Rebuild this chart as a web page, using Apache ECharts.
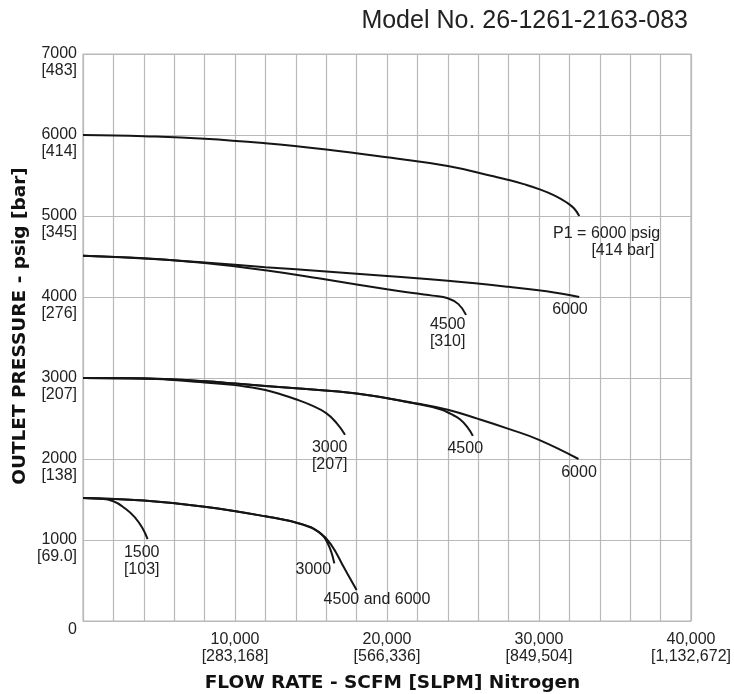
<!DOCTYPE html>
<html>
<head>
<meta charset="utf-8">
<script src="https://cdn.jsdelivr.net/npm/echarts@6/dist/echarts.min.js"></script>
<style>
html,body{margin:0;padding:0;background:#fff;}
#chart{width:734px;height:694px;}
</style>
</head>
<body>
<div id="chart"></div>
<script>
// ---- data (flow SCFM, outlet psig) ----
const curveP6000_top = [[0,6000],[4000,5985],[8000,5955],[12000,5898],[16000,5820],[20000,5724],[24000,5617],[27000,5490],[28000,5445],[29000,5393],[30000,5332],[31000,5255],[31800,5170],[32300,5095],[32650,5000]];
const curve4500_p6000 = [[0,4510],[4000,4475],[8000,4425],[12000,4368],[16000,4316],[20000,4258],[24000,4200],[28000,4126],[30500,4070],[32650,4000]];
const curve4500_p4500 = [[0,4510],[4000,4478],[8000,4420],[12000,4330],[16000,4215],[20000,4095],[22000,4042],[23000,4017],[24000,3985],[24700,3912],[25200,3780]];
const curve3000_p6000 = [[0,3000],[4000,2995],[8000,2960],[10000,2932],[14000,2872],[18000,2808],[22000,2684],[24000,2608],[26000,2495],[28000,2372],[30000,2236],[32600,2000]];
const curve3000_p4500 = [[0,3000],[4000,2995],[8000,2960],[10000,2932],[14000,2872],[18000,2808],[22000,2680],[23500,2615],[24200,2556],[24800,2490],[25300,2390],[25650,2285]];
const curve3000_p3000 = [[0,3000],[4000,2993],[8000,2945],[10000,2912],[11000,2885],[12000,2852],[13000,2800],[14000,2738],[15000,2665],[16000,2566],[16700,2440],[17240,2300]];
const curve1500_p1500 = [[0,1520],[1000,1512],[2000,1478],[2800,1385],[3400,1282],[3900,1150],[4250,1010]];
const curve1500_p3000 = [[0,1520],[4000,1487],[8000,1411],[12000,1292],[14400,1195],[15500,1100],[16100,960],[16535,712]];
const curve1500_p4500 = [[0,1520],[4000,1487],[8000,1411],[12000,1292],[14400,1195],[15500,1100],[16300,950],[17200,650],[18000,383]];

const curveLabels = [
  [34454,4784,'P1 = 6000 psig'],
  [35526,4574,'[414 bar]'],
  [32039,3840,'6000'],
  [23993,3549,'4500\n[310]'],
  [16230,2034,'3000\n[207]'],
  [25151,2123,'4500'],
  [32632,1833,'6000'],
  [3862,741,'1500\n[103]'],
  [15151,630,'3000'],
  [19342,259,'4500 and 6000']
];

const yTickValues = [0,1000,2000,3000,4000,5000,6000,7000];
const yTickPsig = ['0','1000','2000','3000','4000','5000','6000','7000'];
const yTickBar = ['','[69.0]','[138]','[207]','[276]','[345]','[414]','[483]'];
const xTickValues = [10000,20000,30000,40000];
const xTickScfm = ['10,000','20,000','30,000','40,000'];
const xTickSlpm = ['[283,168]','[566,336]','[849,504]','[1,132,672]'];

const modelText = 'Model No. 26-1261-2163-083';
const xTitle = 'FLOW RATE - SCFM [SLPM] Nitrogen';
const yTitle = 'OUTLET PRESSURE - psig [bar]';

// ---- chart ----
const chart = echarts.init(document.getElementById('chart'), null, {renderer:'canvas'});
const TXT = '#222222';
const GRIDC = '#b9b9b9';
const LINEC = '#151515';
const FONT = 'Liberation Sans, Arial, sans-serif';

function lineSeries(name, data){
  return {name, type:'line', data, smooth:0.45, symbol:'none', clip:false,
    lineStyle:{color:LINEC, width:2}, z:3, animation:false};
}

const option = {
  animation:false,
  backgroundColor:'#fff',
  grid:{left:83, top:54, right:43, bottom:73, show:true, borderColor:GRIDC, borderWidth:1.2, backgroundColor:'transparent'},
  xAxis:{type:'value', min:0, max:40000, interval:2000,
    axisLine:{show:false}, axisTick:{show:false},
    splitLine:{show:true, lineStyle:{color:GRIDC, width:1.2}},
    axisLabel:{margin:10, fontFamily:FONT, fontSize:16, lineHeight:17, color:TXT,
      showMinLabel:true, showMaxLabel:true,
      formatter:function(v){ const i = xTickValues.indexOf(v); return i<0 ? '' : xTickScfm[i]+'\n'+xTickSlpm[i]; }}
  },
  yAxis:{type:'value', min:0, max:7000, interval:1000,
    axisLine:{show:false}, axisTick:{show:false},
    splitLine:{show:true, lineStyle:{color:GRIDC, width:1.2}},
    axisLabel:{margin:6, fontFamily:FONT, fontSize:16, lineHeight:17, color:TXT,
      verticalAlign:'middle', align:'right',
      formatter:function(v){ const i = yTickValues.indexOf(v); if(i<0) return ''; return v===0 ? '\n'+yTickPsig[i] : '\n'+yTickPsig[i]+'\n'+yTickBar[i]; }}
  },
  series:[
    lineSeries('top', curveP6000_top),
    lineSeries('4500-6000', curve4500_p6000),
    lineSeries('4500-4500', curve4500_p4500),
    lineSeries('3000-6000', curve3000_p6000),
    lineSeries('3000-4500', curve3000_p4500),
    lineSeries('3000-3000', curve3000_p3000),
    lineSeries('1500-1500', curve1500_p1500),
    lineSeries('1500-3000', curve1500_p3000),
    lineSeries('1500-4500', curve1500_p4500),
    {type:'scatter', data:curveLabels, symbolSize:0, z:5, clip:false, silent:true,
      itemStyle:{opacity:1, color:'#000'},
      label:{show:true, position:'inside', formatter:function(p){return p.data[2];}, opacity:1,
        fontFamily:FONT, fontSize:16, lineHeight:17, color:TXT, textBorderWidth:0, textBorderColor:'transparent',
        align:'center', verticalAlign:'middle'}}
  ],
  graphic:[
    {type:'text', x:688, y:21, style:{text:modelText, font:'25px "Liberation Sans", Arial, sans-serif', fill:TXT, align:'right', verticalAlign:'middle'}},
    {type:'text', x:392.5, y:683, style:{text:xTitle, font:'bold 18.5px "DejaVu Sans", sans-serif', fill:'#111', align:'center', verticalAlign:'middle'}},
    {type:'text', x:20, y:326, rotation:Math.PI/2, style:{text:yTitle, font:'bold 18.5px "DejaVu Sans", sans-serif', fill:'#111', align:'center', verticalAlign:'middle'}}
  ]
};
chart.setOption(option);
</script>
</body>
</html>
